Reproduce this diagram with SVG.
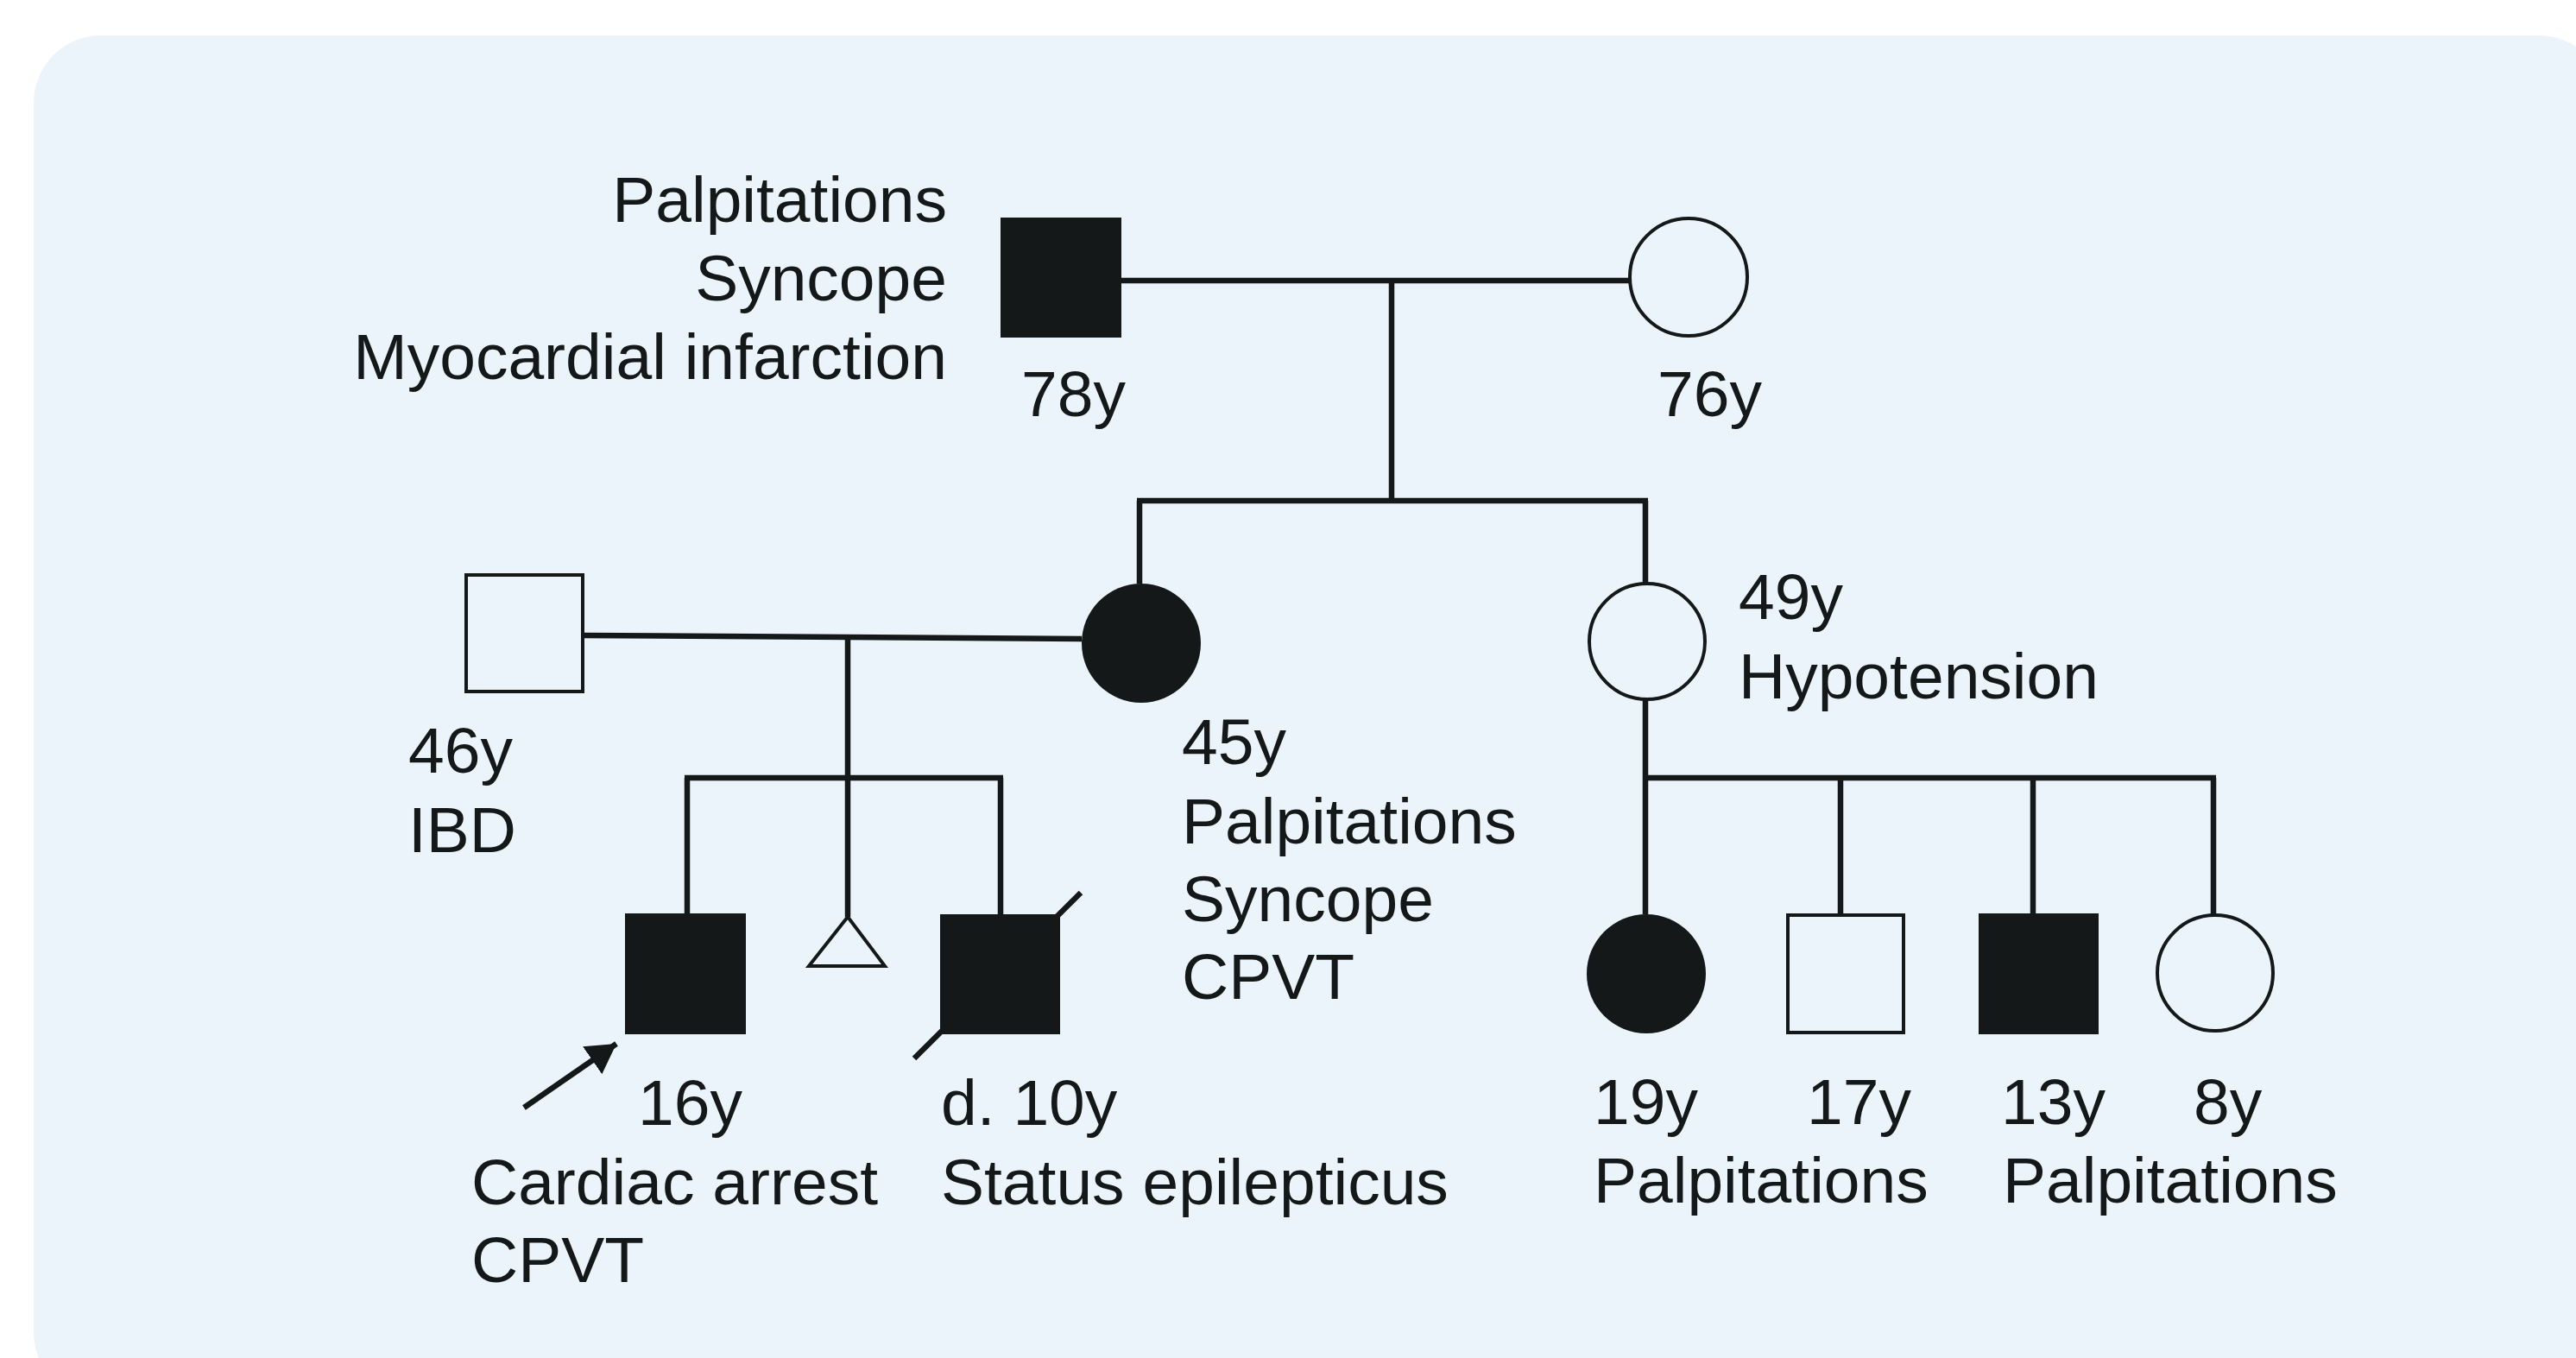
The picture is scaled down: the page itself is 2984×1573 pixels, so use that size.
<svg xmlns="http://www.w3.org/2000/svg" width="2984" height="1573" viewBox="0 0 2984 1573">
  <defs>
    <style>
      .bg { fill: #ebf4fa; }
      .aff { fill: #141819; }
      .un { fill: #ebf4fa; stroke: #141819; stroke-width: 4; }
      .ln { stroke: #141819; stroke-width: 6.5; fill: none; stroke-linecap: butt; }
      .lbl { font-family: "Liberation Sans", Arial, sans-serif; font-size: 75px; fill: #141819; }
      .end { text-anchor: end; }
    </style>
    <marker id="ah" markerWidth="6" markerHeight="6" refX="5.2" refY="3" orient="auto" markerUnits="strokeWidth">
      <path d="M0,0 L5.2,3 L0,6 Z" fill="#141819"/>
    </marker>
  </defs>

  <rect class="bg" x="39" y="41" width="2980" height="1580" rx="78" ry="78"/>

  <g id="connectors">
    <!-- generation I marriage and descent -->
    <line class="ln" x1="1299" y1="325" x2="1888" y2="325"/>
    <line class="ln" x1="1612" y1="325" x2="1612" y2="580"/>
    <line class="ln" x1="1317" y1="580" x2="1909" y2="580"/>
    <line class="ln" x1="1320" y1="580" x2="1320" y2="676"/>
    <line class="ln" x1="1906" y1="580" x2="1906" y2="676"/>
    <!-- left family -->
    <line class="ln" x1="675" y1="736" x2="1253" y2="740"/>
    <line class="ln" x1="982" y1="738" x2="982" y2="901"/>
    <line class="ln" x1="793" y1="901" x2="1162" y2="901"/>
    <line class="ln" x1="796" y1="901" x2="796" y2="1059"/>
    <line class="ln" x1="982" y1="901" x2="982" y2="1062"/>
    <line class="ln" x1="1159" y1="901" x2="1159" y2="1059"/>
    <!-- right family -->
    <line class="ln" x1="1906" y1="811" x2="1906" y2="1059"/>
    <line class="ln" x1="1906" y1="901" x2="2567" y2="901"/>
    <line class="ln" x1="2132" y1="901" x2="2132" y2="1060"/>
    <line class="ln" x1="2355" y1="901" x2="2355" y2="1059"/>
    <line class="ln" x1="2564" y1="901" x2="2564" y2="1059"/>
    <!-- proband arrow -->
    <line class="ln" x1="607" y1="1283" x2="714" y2="1209" marker-end="url(#ah)"/>
  </g>

  <g id="I-1">
    <rect class="aff" x="1159" y="252" width="140" height="139"/>
    <text class="lbl end" x="1097" y="257">Palpitations</text>
    <text class="lbl end" x="1097" y="348">Syncope</text>
    <text class="lbl end" x="1097" y="439">Myocardial infarction</text>
    <text class="lbl" x="1183" y="482">78y</text>
  </g>

  <g id="I-2">
    <circle class="un" cx="1956" cy="321" r="68"/>
    <text class="lbl" x="1920" y="482">76y</text>
  </g>

  <g id="II-1">
    <rect class="un" x="540" y="666" width="135" height="135"/>
    <text class="lbl" x="473" y="895">46y</text>
    <text class="lbl" x="473" y="987">IBD</text>
  </g>

  <g id="II-2">
    <circle class="aff" cx="1322" cy="745" r="69"/>
    <text class="lbl" x="1369" y="885">45y</text>
    <text class="lbl" x="1369" y="977">Palpitations</text>
    <text class="lbl" x="1369" y="1067">Syncope</text>
    <text class="lbl" x="1369" y="1157">CPVT</text>
  </g>

  <g id="II-3">
    <circle class="un" cx="1908" cy="743" r="67"/>
    <text class="lbl" x="2014" y="717">49y</text>
    <text class="lbl" x="2014" y="809">Hypotension</text>
  </g>

  <g id="III-1">
    <rect class="aff" x="724" y="1058" width="140" height="140"/>
    <text class="lbl" x="739" y="1303">16y</text>
    <text class="lbl" x="546" y="1395">Cardiac arrest</text>
    <text class="lbl" x="546" y="1485">CPVT</text>
  </g>

  <g id="III-2">
    <polygon class="un" points="982,1062 1025,1119 937,1119" stroke-width="3.5"/>
  </g>

  <g id="III-3">
    <rect class="aff" x="1089" y="1059" width="139" height="139"/>
    <line class="ln" x1="1059" y1="1226" x2="1252" y2="1034"/>
    <text class="lbl" x="1090" y="1303">d. 10y</text>
    <text class="lbl" x="1090" y="1395">Status epilepticus</text>
  </g>

  <g id="III-4">
    <circle class="aff" cx="1907" cy="1128" r="69"/>
    <text class="lbl" x="1846" y="1302">19y</text>
    <text class="lbl" x="1846" y="1393">Palpitations</text>
  </g>

  <g id="III-5">
    <rect class="un" x="2071" y="1060" width="134" height="136"/>
    <text class="lbl" x="2093" y="1302">17y</text>
  </g>

  <g id="III-6">
    <rect class="aff" x="2292" y="1058" width="139" height="140"/>
    <text class="lbl" x="2318" y="1302">13y</text>
    <text class="lbl" x="2320" y="1393">Palpitations</text>
  </g>

  <g id="III-7">
    <circle class="un" cx="2566" cy="1127" r="67"/>
    <text class="lbl" x="2541" y="1302">8y</text>
  </g>
</svg>
